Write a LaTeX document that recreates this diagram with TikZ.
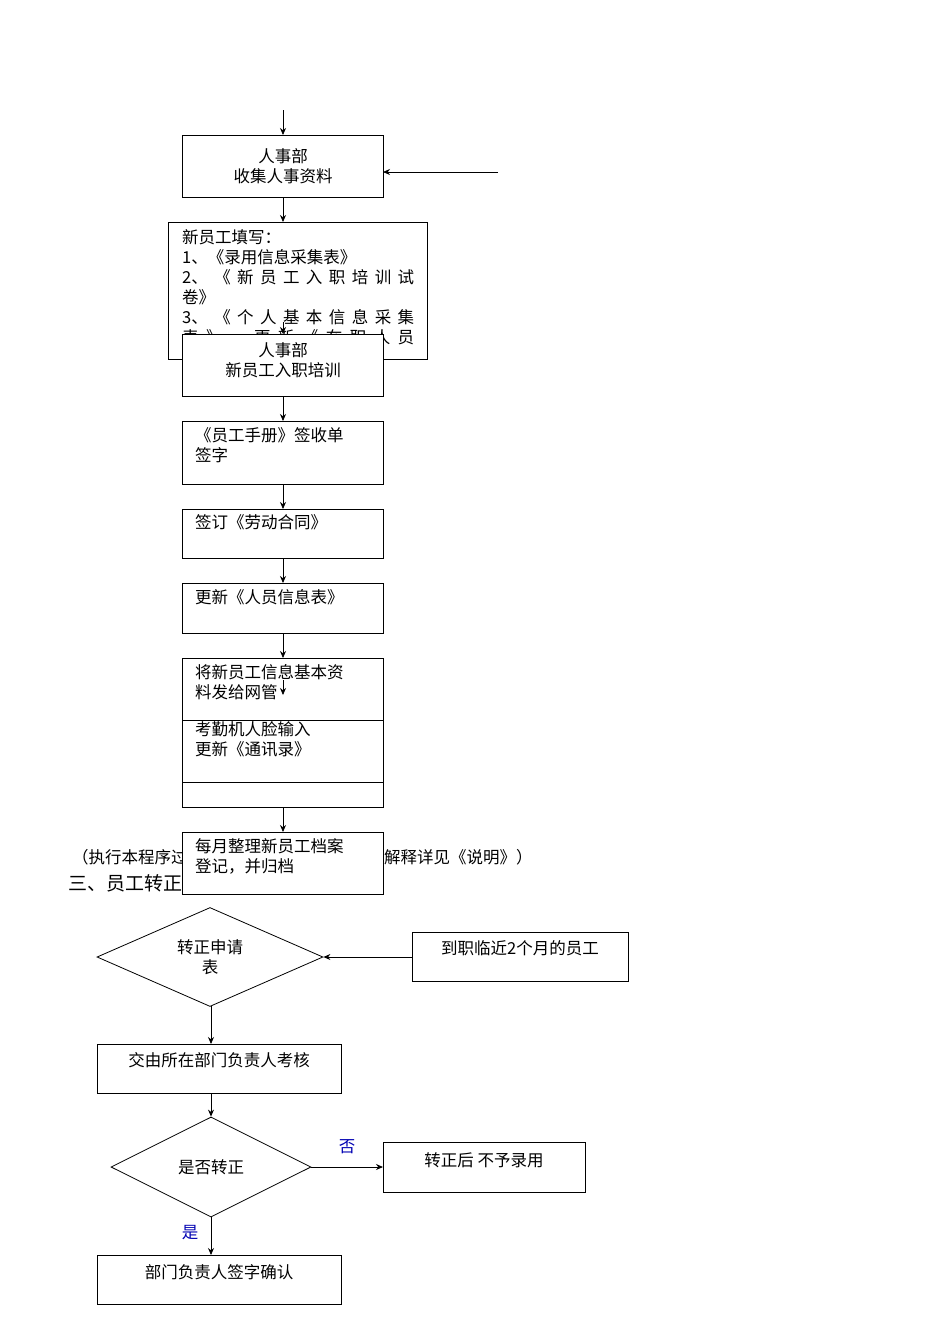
\documentclass[tikz,border=0pt]{standalone}
\usepackage{fontspec}
\setmainfont{Noto Sans CJK SC}
\usetikzlibrary{arrows.meta,shapes.geometric}
\newcommand{\spr}[1]{\makebox[232pt][s]{#1}}
\begin{document}
\begin{tikzpicture}[x=1pt,y=-1pt,
  every node/.style={font=\fontsize{16.5}{20}\selectfont},
  bx/.style={draw,fill=white,line width=0.8pt},
  arr/.style={-{Stealth[length=7pt,width=6pt]},line width=0.8pt},
  lab/.style={anchor=north west,align=left,inner sep=0pt},
  blu/.style={text=blue!70!black}]
\useasboundingbox (0,0) rectangle (950,1344);
% background texts
\node[anchor=west,inner sep=0pt] (note) at (72,857) {（执行本程序过程中出现的问题};
\node[anchor=west,inner sep=0pt] (note2) at (384,857) {解释详见《说明》）};
\node[anchor=west,inner sep=0pt,font=\fontsize{19}{22}\selectfont] (sec) at (68,883) {三、员工转正流程};
\coordinate (top) at (283,110);
\coordinate (rin) at (498,172);
% box 1
\draw[bx] (182,135) rectangle (383,197);
\node[align=center] (b1) at (283,166) {人事部\\收集人事资料};
\coordinate (b1t) at (283,135); \coordinate (b1b) at (283,197); \coordinate (b1r) at (383,172);
\draw[arr] (top) -- (b1t);
\draw[arr] (rin) -- (b1r);
% box 2
\draw[bx] (168,222) rectangle (427,359);
\coordinate (b2t) at (283,222);
\begin{scope}
\clip (168,222) rectangle (427,359);
\node[lab] (b2) at (182,229) {新员工填写：\\1、《录用信息采集表》\\\spr{2、\hfill《\hfill 新\hfill 员\hfill 工\hfill 入\hfill 职\hfill 培\hfill 训\hfill 试}\\卷》\\\spr{3、\hfill《\hfill 个\hfill 人\hfill 基\hfill 本\hfill 信\hfill 息\hfill 采\hfill 集}\\\spr{表\hfill》\hfill、\hfill 更\hfill 新\hfill《\hfill 在\hfill 职\hfill 人\hfill 员}};
\end{scope}
\draw[arr] (b1b) -- (b2t);
\draw[arr] (283,322) -- (283,334);
% box 3
\draw[bx] (182,334) rectangle (383,396);
\node[align=center] (b3) at (283,360) {人事部\\新员工入职培训};
% box 4
\draw[bx] (182,421) rectangle (383,484);
\node[lab] (b4) at (195,427) {《员工手册》签收单\\签字};
\draw[arr] (283,396) -- (283,421);
% box 5
\draw[bx] (182,509) rectangle (383,558);
\node[lab] (b5) at (195,514) {签订《劳动合同》};
\draw[arr] (283,484) -- (283,509);
% box 6
\draw[bx] (182,583) rectangle (383,633);
\node[lab] (b6) at (195,589) {更新《人员信息表》};
\draw[arr] (283,558) -- (283,583);
% box 7-9
\draw[bx] (182,658) rectangle (383,807);
\draw[line width=0.8pt] (182,720) -- (383,720) (182,782) -- (383,782);
\node[lab] (b7) at (195,664) {将新员工信息基本资\\料发给网管};
\node[lab] (b8) at (195,721) {考勤机人脸输入\\更新《通讯录》};
\draw[arr] (283,633) -- (283,658);
\draw[arr] (283,680) -- (283,695);
% box 10
\draw[arr] (283,807) -- (283,832);
\draw[bx] (182,832) rectangle (383,894);
\node[lab] (b10) at (195,838) {每月整理新员工档案\\登记，并归档};
% part 3
\node[diamond,draw,line width=0.8pt,minimum width=226pt,minimum height=99pt,inner sep=0pt,aspect=2.3,align=center] (d1) at (210,957) {转正申请\\表};
\draw[bx] (412,932) rectangle (628,981);
\node (e1) at (520,948) {到职临近2个月的员工};
\draw[arr] (412,957) -- (d1.east);
\draw[bx] (97,1044) rectangle (341,1093);
\node (c1) at (219,1060) {交由所在部门负责人考核};
\draw[arr] (211,1006) -- (211,1044);
\node[diamond,draw,line width=0.8pt,minimum width=200pt,minimum height=100pt,inner sep=0pt,aspect=2] (d2) at (211,1167) {是否转正};
\draw[arr] (211,1093) -- (d2.north);
\draw[bx] (383,1142) rectangle (585,1192);
\node (n1) at (484,1160) {转正后 不予录用};
\draw[arr] (d2.east) -- (383,1167);
\node[blu] (no) at (347,1147) {否};
\draw[bx] (97,1255) rectangle (341,1304);
\node (y1) at (219,1272) {部门负责人签字确认};
\draw[arr] (d2.south) -- (211,1255);
\node[blu] (yes) at (190,1233) {是};
\end{tikzpicture}
\end{document}
